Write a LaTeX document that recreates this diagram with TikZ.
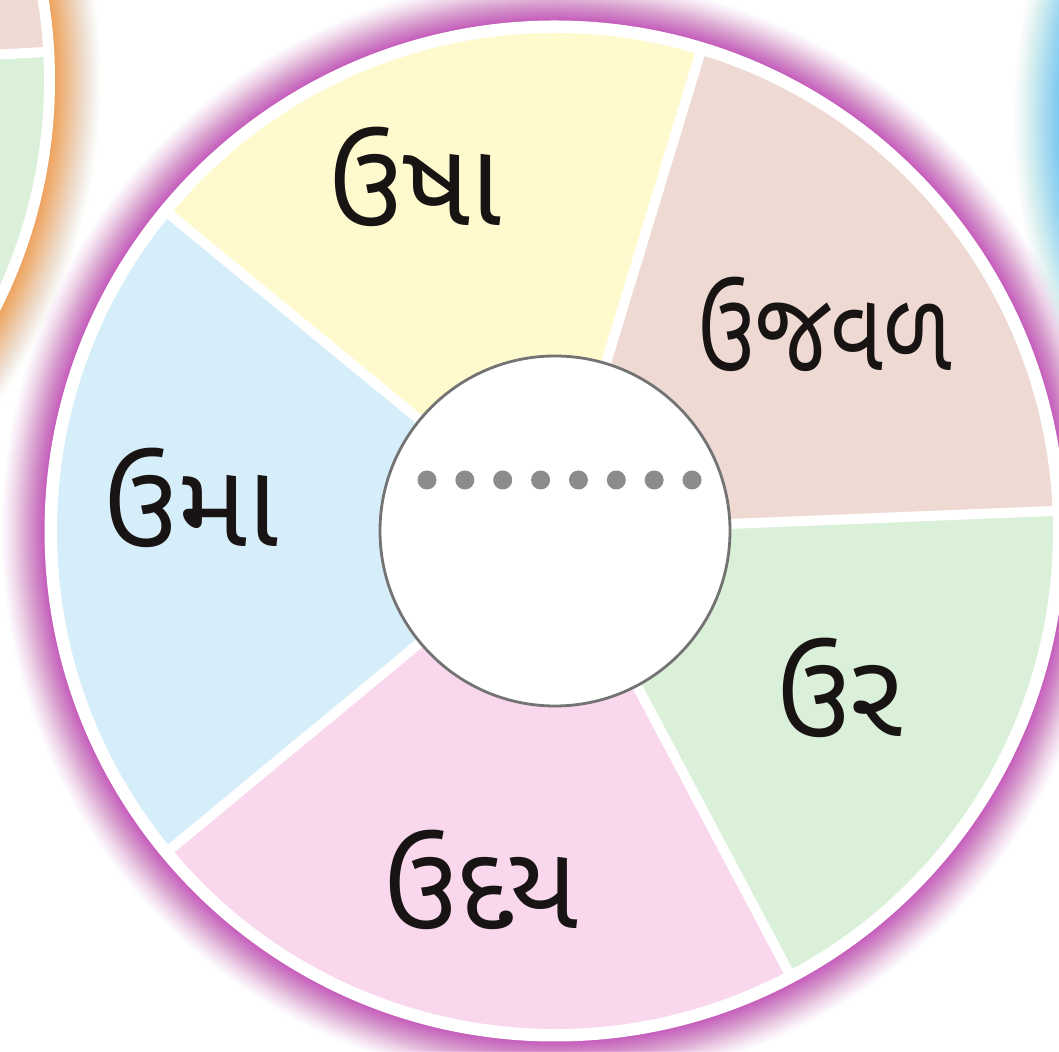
\documentclass[tikz,border=0pt]{standalone}
\usepackage{fontspec}
\usetikzlibrary{calc}
\newfontfamily\gujfont[Script=Gujarati]{Noto Sans Gujarati UI}
\definecolor{secyellow}{RGB}{255,250,206}
\definecolor{sectan}{RGB}{238,218,210}
\definecolor{secgreen}{RGB}{218,240,216}
\definecolor{secpink}{RGB}{249,215,237}
\definecolor{secblue}{RGB}{214,238,250}
\definecolor{glowpurple}{RGB}{192,70,182}
\definecolor{gloworange}{RGB}{238,150,75}
\definecolor{glowblue}{RGB}{90,190,240}
\definecolor{rimgray}{RGB}{115,115,115}
\definecolor{dotgray}{RGB}{140,140,140}
\definecolor{inkc}{RGB}{25,20,20}
\tikzset{
  wordlabel/.style={font=\gujfont\fontsize{118}{130}\selectfont, text=inkc, inner sep=0pt},
  dividerline/.style={white, line width=10},
  blankdot/.style={circle, fill=dotgray, minimum size=19, inner sep=0pt},
  hubcircle/.style={circle, draw=rimgray, fill=white, line width=2.8, minimum size=350, inner sep=0pt}
}
% glow: stacked discs, outer first, so that the summed opacity follows a smooth profile
\newcommand{\glowring}[5]{% centre, colour, inner radius, peak opacity, width
  \foreach \k in {#5,...,0} {
    \pgfmathsetmacro\pin{#4*max(0,1-\k/#5)^1.3}
    \pgfmathsetmacro\pout{#4*max(0,1-(\k+1)/#5)^1.3}
    \pgfmathsetmacro\al{1-(1-\pin)/(1-\pout)}
    \fill[#2, opacity=\al] (#1) circle ({#3+\k+1});
  }
}
\begin{document}
\begin{tikzpicture}[x=1pt,y=1pt]
\useasboundingbox (0,0) rectangle (1059,1051);
\clip (0,0) rectangle (1059,1051);
\fill[white] (0,0) rectangle (1059,1051);
\coordinate (M) at (555,520);
\coordinate (L) at (-456,971);
\coordinate (R) at (1575,931);
% glows
\glowring{L}{gloworange}{510}{0.85}{48}
\glowring{R}{glowblue}{510}{0.85}{52}
\glowring{M}{glowpurple}{510}{0.85}{44}
% left neighbour wheel
\fill[white] (L) circle (511);
\fill[sectan] (L) -- ++(3.2:500) arc[start angle=3.2, end angle=73, radius=500] -- cycle;
\fill[secgreen] (L) -- ++(-62:500) arc[start angle=-62, end angle=3.2, radius=500] -- cycle;
\draw[dividerline] (L) -- ++(3.2:505);
% right neighbour wheel
\fill[white] (R) circle (511);
% main wheel
\fill[white] (M) circle (510.5);
\fill[secyellow] (M) -- ++(73.1:498) arc[start angle=73.1, end angle=140.6, radius=498] -- cycle;
\fill[sectan] (M) -- ++(2.3:498) arc[start angle=2.3, end angle=73.1, radius=498] -- cycle;
\fill[secgreen] (M) -- ++(-62.1:498) arc[start angle=-62.1, end angle=2.3, radius=498] -- cycle;
\fill[secpink] (M) -- ++(-140.4:498) arc[start angle=-140.4, end angle=-62.1, radius=498] -- cycle;
\fill[secblue] (M) -- ++(140.6:498) arc[start angle=140.6, end angle=219.6, radius=498] -- cycle;
\foreach \a/\n in {73.1/d1, 2.3/d2, -62.1/d3, -140.4/d4, 140.6/d5} {
  \coordinate (\n) at ($(M)+(\a:503)$);
  \draw[dividerline] (M) -- (\n);
}
\node[hubcircle] (hub) at (M) {};
\foreach \i in {0,...,7} {
  \node[blankdot] (dot\i) at ({427+\i*37.86}, 571) {};
}
\node[wordlabel] (usha) at (415, 874) {ઉષા};
\node[wordlabel, xscale=0.82, font=\gujfont\fontsize{112}{124}\selectfont] (ujval) at (825, 727) {ઉજવળ};
\node[wordlabel] (uma) at (191, 553) {ઉમા};
\node[wordlabel] (udaya) at (481, 171) {ઉદય};
\node[wordlabel] (ur) at (840, 363) {ઉર};
\end{tikzpicture}
\end{document}
